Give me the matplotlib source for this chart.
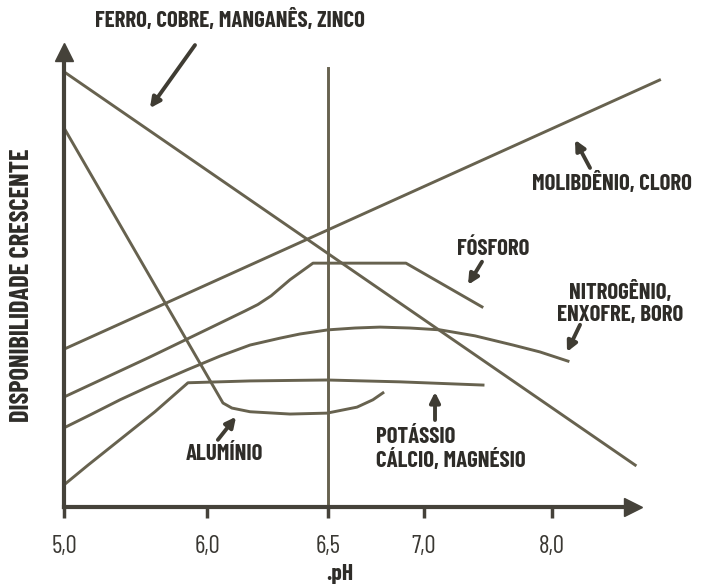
import matplotlib
matplotlib.use("Agg")
import matplotlib.pyplot as plt
import numpy as np

# pH axis of the figure is not linear: tick positions are spaced by hand
ph_anchor = [4.0, 5.0, 6.0, 6.5, 7.0, 8.0, 9.5]
px_anchor = [-79, 64, 207, 328, 424, 552, 744]
tick_ph = [5.0, 6.0, 6.5, 7.0, 8.0]
tick_labels = ["5,0", "6,0", "6,5", "7,0", "8,0"]

# availability curves (pH, relative availability 0-100)
ferro_ph = [5.0, 8.65]
ferro_y = [94.6, 9.1]

molib_ph = [5.0, 8.84]
molib_y = [34.3, 92.8]

aluminio_ph = [5.0, 6.066, 6.103, 6.178, 6.343, 6.496, 6.651, 6.734, 6.786]
aluminio_y = [82.4, 22.6, 21.5, 20.7, 20.2, 20.4, 21.7, 23.3, 24.8]

fosforo_ph = [5.0, 5.601, 6.012, 6.157, 6.21, 6.265, 6.343, 6.438, 6.906, 7.453]
fosforo_y = [23.9, 32.6, 38.9, 42.6, 44.0, 45.9, 49.4, 53.0, 53.0, 43.5]

nsb_ph = [5.0, 5.182, 5.392, 5.601, 5.86, 6.054, 6.178, 6.302, 6.384, 6.5,
          6.641, 6.771, 6.927, 7.125, 7.398, 7.695, 7.906, 8.125]
nsb_y = [17.2, 20.0, 23.3, 26.3, 29.8, 32.8, 35.2, 36.7, 37.6, 38.5,
         38.9, 39.1, 38.9, 38.5, 37.2, 35.2, 33.7, 31.7]

kcamg_ph = [5.0, 5.168, 5.406, 5.636, 5.867, 6.178, 6.496, 6.875, 7.461]
kcamg_y = [4.8, 9.1, 15.0, 20.7, 27.0, 27.4, 27.6, 27.2, 26.5]


def fwd(x):
    return np.interp(x, ph_anchor, px_anchor)


def inv(p):
    return np.interp(p, px_anchor, ph_anchor)


plt.rcParams["font.family"] = ["Barlow Condensed", "DejaVu Sans"]

line_c = "#67624f"
axis_c = "#45423a"
text_c = "#2e2c28"

fig = plt.figure(figsize=(7.08, 5.85), dpi=100)
ax = fig.add_axes([0, 0, 1, 1])
ax.set_xscale("function", functions=(fwd, inv))
ax.set_xlim(inv(0), inv(708))
ax.set_ylim(-16.96, 110.2)

for xs, ys in [(ferro_ph, ferro_y), (molib_ph, molib_y),
               (aluminio_ph, aluminio_y), (fosforo_ph, fosforo_y),
               (nsb_ph, nsb_y), (kcamg_ph, kcamg_y)]:
    ax.plot(xs, ys, color=line_c, lw=2.1, solid_joinstyle="round")

# vertical reference at pH 6,5
ax.plot([6.5, 6.5], [0, 95.4], color=line_c, lw=2.1)

# axes as arrows
for side in ["top", "right"]:
    ax.spines[side].set_visible(False)
ax.spines["left"].set_position(("data", 5.0))
ax.spines["bottom"].set_position(("data", 0))
ax.spines["left"].set_bounds(0, 97)
ax.spines["bottom"].set_bounds(5.0, 8.55)
for side in ["left", "bottom"]:
    ax.spines[side].set_color(axis_c)
    ax.spines[side].set_linewidth(3)
ax.plot(8.63, 0, ">", color=axis_c, ms=13, clip_on=False)
ax.plot(5.0, 98.8, "^", color=axis_c, ms=13, clip_on=False)

ax.set_yticks([])
ax.set_xticks(tick_ph)
ax.set_xticklabels(tick_labels)
ax.tick_params(axis="x", direction="out", length=8, width=2.5, color=axis_c,
               pad=12, labelsize=18, labelcolor="#3a3833")
ax.xaxis.set_minor_locator(matplotlib.ticker.NullLocator())

bold = dict(fontweight="bold", color=text_c, fontsize=16.5)
arrow = dict(arrowstyle="-|>", lw=2.8, color="#3f3c33", mutation_scale=15,
             shrinkA=0, shrinkB=0)

ax.text(6.095, 105.9, "FERRO, COBRE, MANGANÊS, ZINCO", ha="center", va="center", **bold)
ax.annotate("", xy=(5.601, 86.7), xytext=(5.916, 100.4), arrowprops=arrow)

ax.text(8.469, 70.4, "MOLIBDÊNIO, CLORO", ha="center", va="center", **bold)
ax.annotate("", xy=(8.18, 79.8), xytext=(8.297, 73.7), arrowprops=arrow)

ax.text(7.539, 56.1, "FÓSFORO", ha="center", va="center", **bold)
ax.annotate("", xy=(7.344, 48.3), xytext=(7.453, 53.3), arrowprops=arrow)

ax.text(8.531, 44.3, "NITROGÊNIO,\nENXOFRE, BORO", ha="center", va="center",
        linespacing=1.1, **bold)
ax.annotate("", xy=(8.117, 33.7), xytext=(8.219, 39.6), arrowprops=arrow)

ax.text(6.074, 11.5, "ALUMÍNIO", ha="center", va="center", **bold)
ax.annotate("", xy=(6.12, 19.6), xytext=(6.045, 14.6), arrowprops=arrow)

ax.text(6.75, 12.6, "POTÁSSIO\nCÁLCIO, MAGNÉSIO", ha="left", va="center",
        linespacing=1.15, **bold)
ax.annotate("", xy=(7.086, 25.0), xytext=(7.086, 18.9), arrowprops=arrow)

ax.text(4.706, 48.3, "DISPONIBILIDADE CRESCENTE", rotation=90, ha="center",
        va="center", fontweight="bold", color=text_c, fontsize=19)
ax.text(6.5625, -14.6, ".pH", ha="center", va="center", fontsize=17,
        fontweight="bold", color=text_c)

fig.savefig("out.png", dpi=100)
